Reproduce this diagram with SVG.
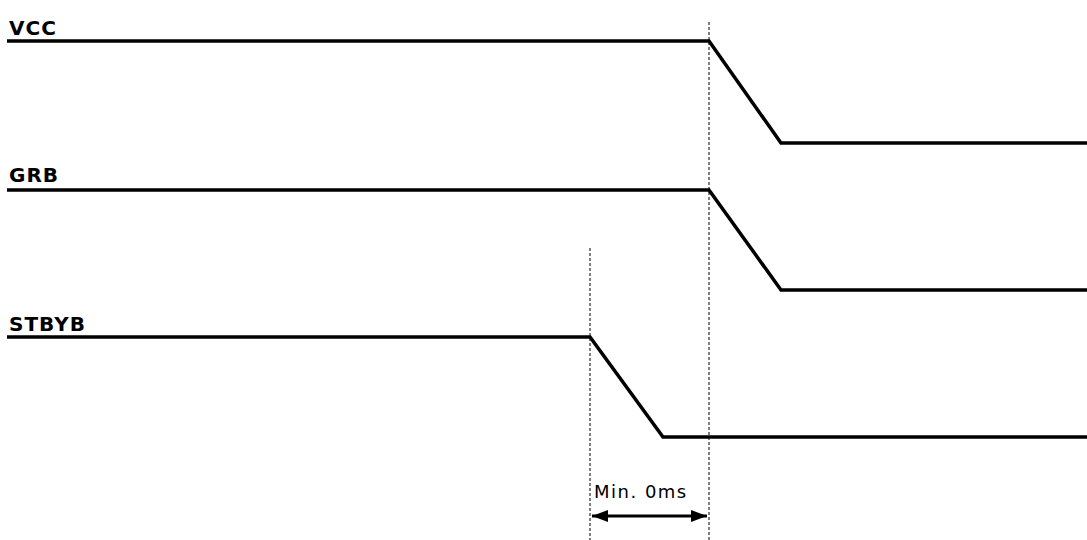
<svg xmlns="http://www.w3.org/2000/svg" width="1087" height="540" viewBox="0 0 1087 540">
<style>
.sig{fill:none;stroke:#000;stroke-width:3.5;stroke-linejoin:miter}
.guide{fill:none;stroke:#000;stroke-width:1;stroke-dasharray:3,2}
.lbl{font-family:"DejaVu Sans","Noto Sans",sans-serif;font-weight:bold;font-size:20px;letter-spacing:1px;fill:#000}
.note{font-family:"DejaVu Sans","Noto Sans",sans-serif;font-size:18px;letter-spacing:1.5px;fill:#000}
</style>
<defs>
<marker id="ah" viewBox="0 0 16 12" refX="16" refY="6" markerWidth="16" markerHeight="12" markerUnits="userSpaceOnUse" orient="auto-start-reverse">
<path d="M0,0 L16,6 L0,12 Z" fill="#000"/>
</marker>
</defs>
<rect width="1087" height="540" fill="#fff"/>
<g id="connectors">
<line class="guide" x1="590" y1="248" x2="590" y2="540"/>
<line class="guide" x1="709" y1="22" x2="709" y2="540"/>
<line x1="592" y1="516" x2="707" y2="516" stroke="#000" stroke-width="3" marker-start="url(#ah)" marker-end="url(#ah)"/>
</g>
<g id="vcc">
<text class="lbl" x="9" y="35">VCC</text>
<polyline class="sig" points="7,41 709,41 781,143 1087,143"/>
</g>
<g id="grb">
<text class="lbl" x="9" y="182">GRB</text>
<polyline class="sig" points="7,190 709,190 781,290 1087,290"/>
</g>
<g id="stbyb">
<text class="lbl" x="9" y="331">STBYB</text>
<polyline class="sig" points="7,337 590,337 663,437 1087,437"/>
</g>
<g id="min">
<text class="note" x="594" y="498">Min. 0ms</text>
</g>
</svg>
